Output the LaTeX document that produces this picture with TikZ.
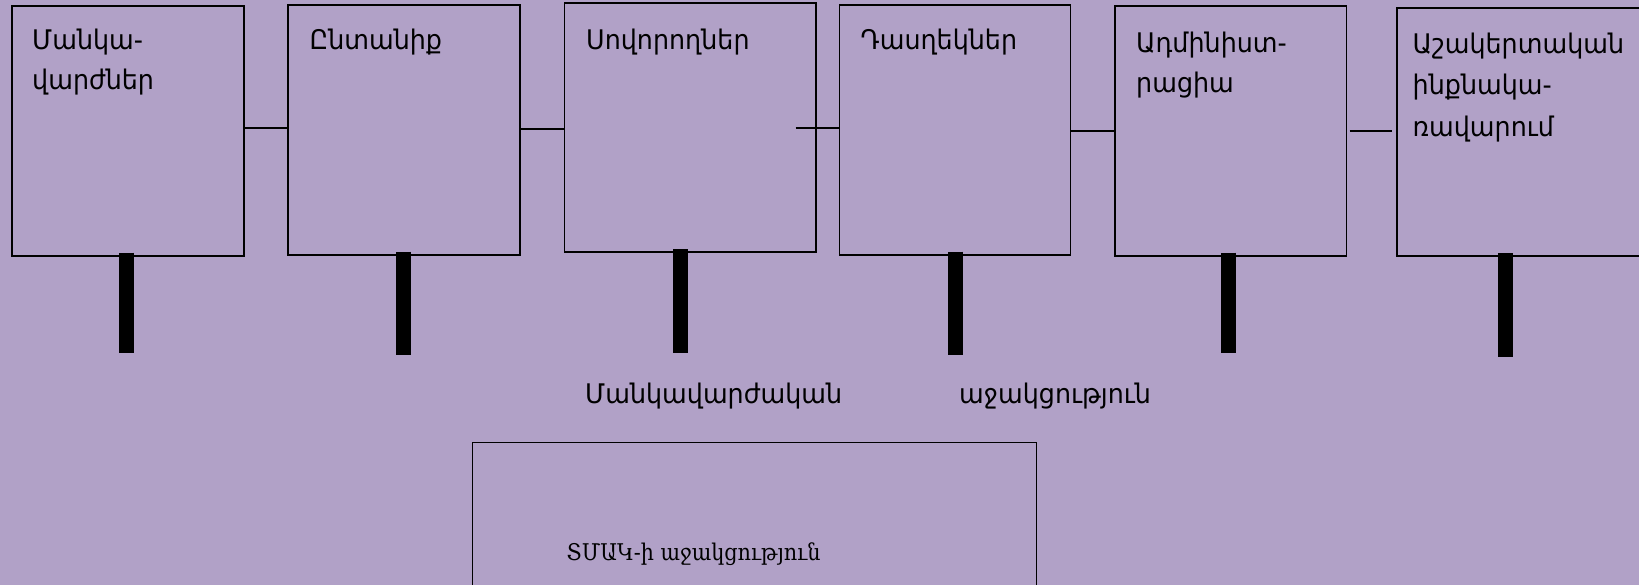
\documentclass[tikz,border=0pt]{standalone}
\usepackage{fontspec}
\setmainfont{DejaVu Sans}[FakeStretch=0.94]
\newfontfamily\armserif{DejaVu Serif}[FakeStretch=0.9]
\definecolor{lila}{RGB}{177,161,199}
\newcommand{\bw}{232pt}
\newcommand{\bh}{250pt}

\begin{document}
\begin{tikzpicture}[x=1pt, y=-1pt,
    box/.style={draw, rectangle, anchor=north west, minimum width=\bw, minimum height=\bh, line width=1.6pt, inner sep=0pt},
    lbl/.style={anchor=base west, align=left, inner sep=0pt, font=\fontsize{27}{40}\selectfont},
    link/.style={line width=1.6pt},
    bar/.style={line width=15pt}]
    \fill[lila] (0,0) rectangle (1639,585);
    \clip (0,0) rectangle (1639,585);

    % Top row
    \node[box] (m1) at (11,5) {};
    \node[box] (m2) at (287,4) {};
    \node[box, minimum width=251.5pt, minimum height=249pt] (m3) at (563.5,2.5) {};
    \node[box, minimum width=231pt] (m4) at (838.5,4) {};
    \node[box, minimum width=231.5pt] (m5) at (1114,5) {};
    \node[box, minimum width=270pt, minimum height=248pt] (m6) at (1396,7.5) {};

    % Labels (base = last line)
    \node[lbl] (t1) at ([shift={(21,85)}]m1.north west) {Մանկա-\\վարժներ};
    \node[lbl] (t2) at ([shift={(22.5,46)}]m2.north west) {Ընտանիք};
    \node[lbl] (t3) at ([shift={(22.5,47.5)}]m3.north west) {Սովորողներ};
    \node[lbl] (t4) at ([shift={(22,46)}]m4.north west) {Դասղեկներ};
    \node[lbl] (t5) at ([shift={(22,88)}]m5.north west) {Ադմինիստ-\\րացիա};
    \node[lbl, font=\fontsize{27}{41.5}\selectfont] (t6) at ([shift={(16.5,129)}]m6.north west) {Աշակերտական\\ինքնակա-\\ռավարում};

    % Links between boxes
    \draw[link] ([yshift=3pt]m1.east) -- ([yshift=3pt]m1.east -| m2.west);
    \draw[link] ([yshift=1pt]m2.east) -- ([yshift=1pt]m2.east -| m3.west);
    \draw[link] ([xshift=-21pt]m3.east) -- (m3.east -| m4.west);
    \draw[link] (m4.east |- m5.west) -- (m5.west);
    \draw[link] ([xshift=2.5pt]m5.east) -- ([xshift=-4pt]m5.east -| m6.west);

    % Bars
    \coordinate (f1) at (126.5,353);
    \coordinate (f2) at (403.5,355);
    \coordinate (f3) at (680.5,353);
    \coordinate (f4) at (955.5,355);
    \coordinate (f5) at (1228,353);
    \coordinate (f6) at (1505,357);
    \foreach \i in {1,...,6}
        \draw[bar] ([yshift=4pt]f\i |- m\i.south) -- (f\i);

    % Bottom
    \node[lbl] (w1) at (585,403) {Մանկավարժական};
    \node[lbl] (w2) at (959,403) {աջակցություն};
    \node[box, minimum width=564pt, minimum height=200pt] (tmak) at (471.5,441.5) {};
    \node[anchor=base west, inner sep=0pt, font=\armserif\fontsize{23}{27}\selectfont] (tmaktxt) at (566.5,560) {ՏՄԱԿ-ի աջակցություն};
\end{tikzpicture}
\end{document}
